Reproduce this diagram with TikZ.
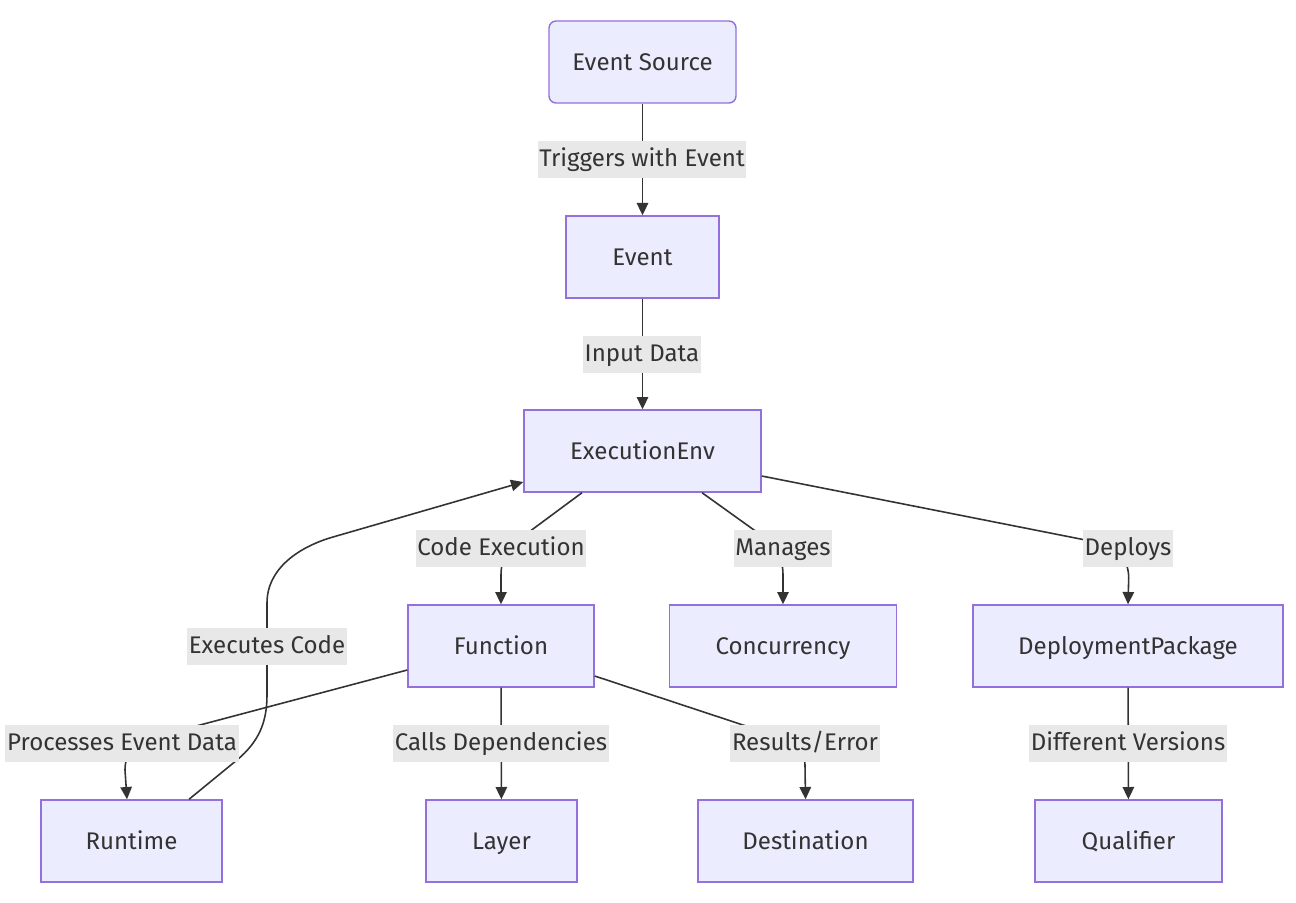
\documentclass[tikz,border=0pt]{standalone}
\usepackage{fontspec}
\setmainfont{Fira Sans}
\usetikzlibrary{arrows.meta,calc,positioning}
\definecolor{boxfill}{HTML}{ECECFF}
\definecolor{boxline}{HTML}{9370DB}
\definecolor{ink}{HTML}{333333}
\definecolor{lblfill}{HTML}{E8E8E8}

\begin{document}
\begin{tikzpicture}[
  box/.style={draw=boxline,fill=boxfill,line width=0.8pt,minimum height=1.64cm,
    text=ink,font=\fontsize{13.7}{16}\selectfont,text height=1.1em,text depth=0.15em},
  edge/.style={draw=ink,line width=0.9pt,-{Triangle[length=7pt,width=6.5pt]}},
  lbl/.style={fill=lblfill,text=ink,font=\fontsize{13.7}{16}\selectfont,
    inner xsep=1pt,inner ysep=0pt,minimum height=0.74cm,text height=1.05em,text depth=0.15em}]
  \useasboundingbox (0,0) rectangle (25.92,-18.04);
  % boxes
  \node[box,rounded corners=4pt,minimum width=3.74cm] (src) at (12.85,-1.24) {Event Source};
  \node[box,minimum width=3.06cm] (evt) at (12.85,-5.14) {Event};
  \node[box,minimum width=4.74cm] (env) at (12.85,-9.02) {ExecutionEnv};
  \node[box,minimum width=3.72cm] (fn) at (10.02,-12.92) {Function};
  \node[box,minimum width=4.54cm] (conc) at (15.66,-12.92) {Concurrency};
  \node[box,minimum width=6.2cm] (dep) at (22.56,-12.92) {DeploymentPackage};
  \node[box,minimum width=3.62cm] (rt) at (2.63,-16.82) {Runtime};
  \node[box,minimum width=3.02cm] (layer) at (10.03,-16.82) {Layer};
  \node[box,minimum width=4.3cm] (dst) at (16.11,-16.82) {Destination};
  \node[box,minimum width=3.74cm] (qual) at (22.57,-16.82) {Qualifier};
  % connectors
  \draw[edge] (src) -- (evt);
  \draw[edge] (evt) -- (env);
  \draw[edge] ([xshift=-1.21cm]env.south) -- ++(-1.08,-0.8)
    to[out=-143,in=90] ++(-0.54,-0.84) -- (fn.north);
  \draw[edge] ([xshift=1.19cm]env.south) -- ++(1.06,-0.76)
    to[out=-36,in=90] ++(0.56,-0.88) -- (conc.north);
  \draw[edge] ([yshift=-0.5cm]env.east) -- ++(6.78,-1.34)
    to[out=-11,in=90] ++(0.56,-0.7) -- (dep.north);
  \draw[edge] ([xshift=1.15cm]rt.north) -- (4.74,-15.2)
    to[out=40,in=-90] (5.34,-13.9) -- (5.34,-12.06)
    to[out=90,in=196] (6.66,-10.74) -- ([yshift=-0.62cm]env.west);
  \draw[edge] ([yshift=-0.48cm]fn.west) -- (4.0,-14.5)
    to[out=195,in=90] (2.5,-15.4) -- ([xshift=-0.09cm]rt.north);
  \draw[edge] (fn) -- (layer);
  \draw[edge] ([yshift=-0.6cm]fn.east) -- (14.86,-14.5)
    to[out=-19,in=90] (16.1,-15.3) -- (dst.north);
  \draw[edge] (dep) -- (qual);
  % edge labels
  \node[lbl] (l1) at (12.84,-3.18) {Triggers with Event};
  \node[lbl] (l2) at (12.84,-7.08) {Input Data};
  \node[lbl] (l3) at (10.02,-10.96) {Code Execution};
  \node[lbl] (l4) at (15.66,-10.96) {Manages};
  \node[lbl] (l5) at (22.56,-10.96) {Deploys};
  \node[lbl] (l6) at (5.34,-12.92) {Executes Code};
  \node[lbl] (l7) at (2.44,-14.86) {Processes Event Data};
  \node[lbl] (l8) at (10.02,-14.86) {Calls Dependencies};
  \node[lbl] (l9) at (16.1,-14.86) {Results/Error};
  \node[lbl] (l10) at (22.56,-14.86) {Different Versions};
\end{tikzpicture}
\end{document}
